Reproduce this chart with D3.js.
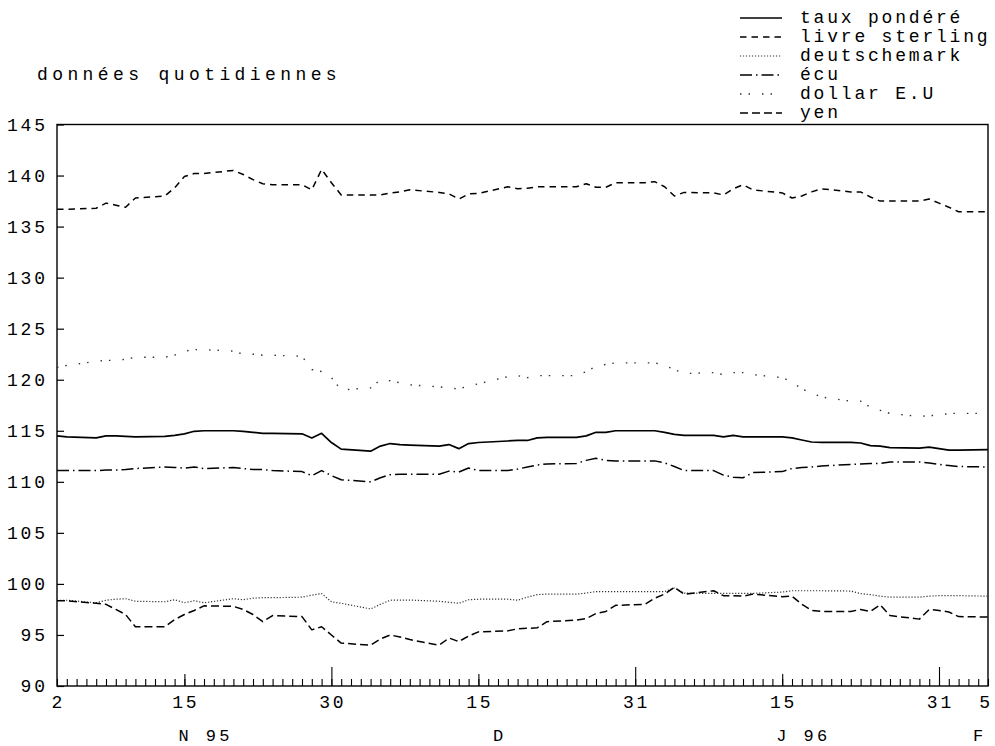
<!DOCTYPE html>
<html>
<head>
<meta charset="utf-8">
<script src="https://cdn.jsdelivr.net/npm/d3@7"></script>
<style>
  html, body { margin: 0; padding: 0; background: #fff; }
  svg { display: block; }
  text { font-family: "Liberation Mono", "DejaVu Sans Mono", monospace; font-size: 18px; letter-spacing: 2.8px; fill: #000; }
  text.subtitle { letter-spacing: 4.4px; }
  text.month { font-size: 17px; letter-spacing: 3.4px; }
</style>
</head>
<body>
<svg id="chart" width="995" height="746"></svg>
<script>
// Business days, 2 Nov 1995 – 5 Feb 1996
const dates = [
  "1995-11-02","1995-11-03","1995-11-06","1995-11-07","1995-11-08","1995-11-09","1995-11-10",
  "1995-11-13","1995-11-14","1995-11-15","1995-11-16","1995-11-17","1995-11-20","1995-11-21",
  "1995-11-22","1995-11-23","1995-11-24","1995-11-27","1995-11-28","1995-11-29","1995-11-30",
  "1995-12-01","1995-12-04","1995-12-05","1995-12-06","1995-12-07","1995-12-08","1995-12-11",
  "1995-12-12","1995-12-13","1995-12-14","1995-12-15","1995-12-18","1995-12-19","1995-12-20",
  "1995-12-21","1995-12-22","1995-12-25","1995-12-26","1995-12-27","1995-12-28","1995-12-29",
  "1996-01-01","1996-01-02","1996-01-03","1996-01-04","1996-01-05","1996-01-08","1996-01-09",
  "1996-01-10","1996-01-11","1996-01-12","1996-01-15","1996-01-16","1996-01-17","1996-01-18",
  "1996-01-19","1996-01-22","1996-01-23","1996-01-24","1996-01-25","1996-01-26","1996-01-29",
  "1996-01-30","1996-01-31","1996-02-01","1996-02-02","1996-02-05"
];

const tauxPondere = [
  114.5, 114.4, 114.3, 114.5, 114.5, 114.45, 114.4, 114.45, 114.55, 114.7, 114.95, 115.0, 115.0, 114.95,
  114.85, 114.75, 114.75, 114.7, 114.3, 114.75, 113.85,
  113.2, 113.0, 113.5, 113.75, 113.65, 113.6, 113.5, 113.65, 113.25, 113.75, 113.85, 114.0, 114.05, 114.05,
  114.3, 114.35, 114.35, 114.5, 114.85, 114.85, 115.0,
  115.0, 115.0, 114.85, 114.65, 114.55, 114.55, 114.4, 114.55, 114.4, 114.4, 114.4, 114.3, 114.1, 113.9,
  113.87, 113.87, 113.8, 113.55, 113.5, 113.35, 113.3, 113.4, 113.25,
  113.1, 113.1, 113.15
];

const livreSterling = [
  136.7, 136.7, 136.8, 137.3, 137.1, 136.9, 137.8, 138.0, 138.8, 139.9, 140.2, 140.2, 140.5, 140.1,
  139.6, 139.2, 139.1, 139.1, 138.6, 140.6, 139.3,
  138.1, 138.1, 138.1, 138.3, 138.4, 138.6, 138.35, 138.2, 137.7, 138.2, 138.25, 138.9, 138.7, 138.75,
  138.9, 138.9, 138.9, 139.2, 138.85, 138.85, 139.3,
  139.3, 139.4, 138.9, 138.0, 138.35, 138.3, 138.1, 138.7, 139.1, 138.6, 138.3, 137.8, 138.0, 138.4,
  138.7, 138.4, 138.4, 137.9, 137.5, 137.5, 137.5, 137.7, 137.3,
  136.9, 136.45, 136.45
];

const deutschemark = [
  98.4, 98.4, 98.15, 98.4, 98.5, 98.55, 98.3, 98.25, 98.45, 98.15, 98.35, 98.15, 98.55, 98.45,
  98.6, 98.65, 98.65, 98.7, 98.9, 99.05, 98.25,
  98.1, 97.55, 98.0, 98.4, 98.42, 98.42, 98.3, 98.2, 98.1, 98.45, 98.5, 98.5, 98.4, 98.7,
  98.95, 99.0, 99.0, 99.1, 99.25, 99.25, 99.25,
  99.25, 99.25, 99.25, 99.6, 99.1, 99.07, 99.07, 99.07, 99.07, 99.07, 99.2, 99.33, 99.33, 99.33,
  99.33, 99.3, 99.05, 98.95, 98.8, 98.7, 98.7, 98.8, 98.85,
  98.85, 98.85, 98.8
];

const ecu = [
  111.1, 111.1, 111.1, 111.15, 111.15, 111.2, 111.3, 111.45, 111.4, 111.35, 111.45, 111.3, 111.4, 111.3,
  111.2, 111.2, 111.1, 111.0, 110.6, 111.1, 110.6,
  110.2, 110.0, 110.4, 110.7, 110.75, 110.75, 110.75, 111.05, 110.95, 111.35, 111.1, 111.1, 111.25, 111.45,
  111.65, 111.75, 111.8, 112.1, 112.3, 112.1, 112.05,
  112.05, 112.05, 111.85, 111.5, 111.1, 111.1, 110.65, 110.45, 110.4, 110.9, 111.0, 111.3, 111.4, 111.45,
  111.55, 111.7, 111.75, 111.8, 111.8, 111.95, 111.95, 111.85, 111.7,
  111.6, 111.5, 111.45
];

const dollarEU = [
  121.2, 121.4, 121.8, 121.9, 121.9, 122.0, 122.2, 122.2, 122.4, 122.8, 122.95, 122.95, 122.8, 122.5,
  122.5, 122.4, 122.4, 122.3, 121.0, 120.8, 120.2,
  119.0, 119.2, 120.0, 119.9, 119.7, 119.5, 119.3, 119.2, 119.1, 119.4, 119.6, 120.3, 120.4, 120.2,
  120.4, 120.4, 120.4, 120.8, 121.3, 121.5, 121.65,
  121.65, 121.65, 121.4, 121.0, 120.6, 120.7, 120.5, 120.7, 120.7, 120.5, 120.2, 119.8, 119.1, 118.7,
  118.3, 117.9, 117.9, 117.3, 117.0, 116.7, 116.4, 116.5, 116.5,
  116.7, 116.7, 116.7
];

const yen = [
  98.35, 98.35, 98.1, 98.0, 97.5, 97.0, 95.8, 95.8, 96.5, 97.0, 97.4, 97.85, 97.8, 97.5,
  97.0, 96.3, 96.9, 96.8, 95.5, 95.8, 95.0,
  94.2, 94.0, 94.6, 95.0, 94.8, 94.55, 94.0, 94.7, 94.35, 94.9, 95.3, 95.4, 95.6, 95.65,
  95.7, 96.3, 96.45, 96.6, 97.1, 97.3, 97.9,
  98.0, 98.6, 99.0, 99.67, 98.98, 99.33, 98.85, 98.85, 98.8, 99.0, 98.75, 98.8, 98.0, 97.4,
  97.3, 97.3, 97.5, 97.3, 97.95, 96.9, 96.55, 97.5, 97.4,
  97.25, 96.8, 96.75
];

const seriesNames = ["taux pondéré", "livre sterling", "deutschemark", "écu", "dollar E.U", "yen"];

const yTicks = [90, 95, 100, 105, 110, 115, 120, 125, 130, 135, 140, 145];
const xLabelDates = ["1995-11-02","1995-11-15","1995-11-30","1995-12-15","1995-12-31","1996-01-15","1996-01-31","1996-02-05"];
const xLabels = ["2", "15", "30", "15", "31", "15", "31", "5"];
const midTickDates = ["1995-11-15","1995-12-15","1996-01-15"];
const longTickDates = ["1995-11-30","1995-12-31","1996-01-31"];
const monthLabels = ["N 95", "D", "J 96", "F"];
const monthLabelDates = ["1995-11-17","1995-12-17","1996-01-17","1996-02-04"];
const subtitle = "données quotidiennes";

// ---------------------------------------------------------------------------
const parse = d3.timeParse("%Y-%m-%d");
const svg = d3.select("#chart");
const W = 995, H = 746;
const plot = { left: 57, right: 988, top: 124.5, bottom: 686 };

svg.append("rect").attr("width", W).attr("height", H).attr("fill", "#fff");

const x = d3.scaleTime()
  .domain([parse("1995-11-02"), parse("1996-02-05")])
  .range([plot.left, plot.right]);
const y = d3.scaleLinear()
  .domain([90, 145])
  .range([plot.bottom, plot.top]);

const ls = 2.8; // letter-spacing, shifts anchored text

// Frame
svg.append("rect")
  .attr("x", plot.left).attr("y", plot.top)
  .attr("width", plot.right - plot.left).attr("height", plot.bottom - plot.top)
  .attr("fill", "none").attr("stroke", "#000").attr("stroke-width", 1.4);

// Y axis: ticks inside the frame, labels to the left
const yAxis = svg.append("g")
  .attr("transform", `translate(${plot.left},0)`)
  .call(d3.axisLeft(y).tickValues(yTicks).tickSizeInner(-7).tickSizeOuter(0).tickPadding(12 - ls));
yAxis.select(".domain").remove();
yAxis.selectAll(".tick line").attr("stroke", "#000").attr("stroke-width", 1.2);
yAxis.selectAll(".tick text")
  .attr("font-family", null).attr("font-size", null).attr("fill", "#000");

// X axis: one tick per calendar day, taller ticks for the 15th and month ends
const allDays = d3.timeDay.range(x.domain()[0], d3.timeDay.offset(x.domain()[1], 1));
function dayTicks(values, size) {
  const g = svg.append("g")
    .attr("transform", `translate(0,${plot.bottom})`)
    .call(d3.axisBottom(x).tickValues(values).tickSizeInner(-size).tickSizeOuter(0).tickFormat(""));
  g.select(".domain").remove();
  g.selectAll(".tick line").attr("stroke", "#000").attr("stroke-width", 1.1);
  return g;
}
dayTicks(allDays, 7);
dayTicks(midTickDates.map(parse), 12);
dayTicks(longTickDates.map(parse), 19);

// Day labels (the last one is kept inside the page edge)
svg.append("g").selectAll("text")
  .data(xLabelDates)
  .join("text")
  .attr("x", (d, i) => Math.min(x(parse(d)) + ls / 2, W - 9))
  .attr("y", 708)
  .attr("text-anchor", "middle")
  .text((d, i) => xLabels[i]);

// Month labels
svg.append("g").selectAll("text")
  .data(monthLabelDates)
  .join("text")
  .attr("class", "month")
  .attr("x", d => x(parse(d)) + 1.7)
  .attr("y", 741)
  .attr("text-anchor", "middle")
  .text((d, i) => monthLabels[i]);

// Subtitle
svg.append("text").attr("class", "subtitle").attr("x", 37).attr("y", 80).text(subtitle);

// Series
const values = [tauxPondere, livreSterling, deutschemark, ecu, dollarEU, yen];
const styles = [
  { dash: null,               width: 1.7, color: "#000" },
  { dash: "6.5,5",            width: 1.5, color: "#000" },
  { dash: "1.2,1.8",          width: 1.2, color: "#333" },
  { dash: "12,4,1.5,4",       width: 1.5, color: "#000" },
  { dash: "1.5,7,1.5,12",     width: 1.4, color: "#333" },
  { dash: "8,4",              width: 1.5, color: "#000" }
];

const line = d3.line()
  .x((d, i) => x(parse(dates[i])))
  .y(d => y(d));

const gLines = svg.append("g").attr("fill", "none");
values.forEach((vals, k) => {
  gLines.append("path")
    .datum(vals)
    .attr("d", line)
    .attr("stroke", styles[k].color)
    .attr("stroke-width", styles[k].width)
    .attr("stroke-dasharray", styles[k].dash)
    .attr("stroke-linejoin", "round");
});

// Legend
const legend = svg.append("g");
seriesNames.forEach((name, k) => {
  const cy = 18 + k * 19;
  legend.append("line")
    .attr("x1", 740).attr("x2", 782).attr("y1", cy).attr("y2", cy)
    .attr("stroke", styles[k].color)
    .attr("stroke-width", styles[k].width)
    .attr("stroke-dasharray", styles[k].dash);
  legend.append("text").attr("x", 800).attr("y", cy + 5).text(name);
});
</script>
</body>
</html>
